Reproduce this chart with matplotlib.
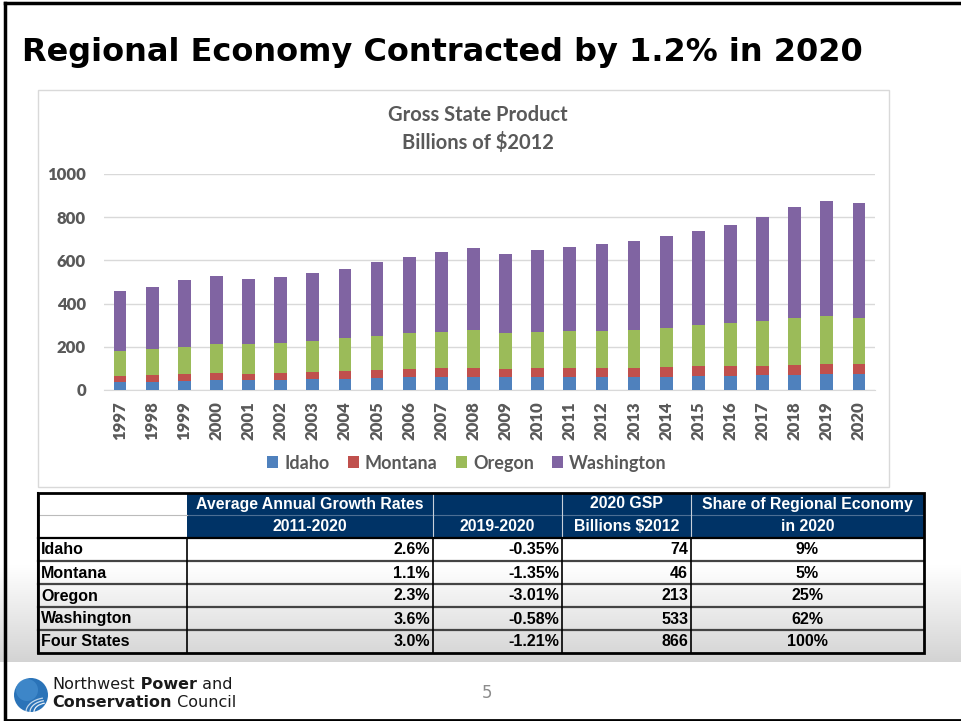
import matplotlib.pyplot as plt
import numpy as np
from matplotlib.patches import Rectangle, Circle, Arc

# Gross state product, billions of $2012
years = ["1997", "1998", "1999", "2000", "2001", "2002", "2003", "2004",
         "2005", "2006", "2007", "2008", "2009", "2010", "2011", "2012",
         "2013", "2014", "2015", "2016", "2017", "2018", "2019", "2020"]
idaho = [39, 39, 43, 46, 46, 46, 49, 52, 56, 59, 59, 60,
         59, 59, 59, 59, 62, 62, 65, 66, 68, 71, 74, 74]
montana = [27, 30, 30, 33, 30, 33, 33, 36, 38, 38, 41, 40,
           38, 41, 41, 41, 41, 44, 45, 44, 45, 46, 46, 46]
oregon = [116, 122, 128, 135, 135, 139, 146, 153, 158, 167, 170, 176,
          167, 170, 175, 175, 176, 181, 189, 199, 208, 215, 221, 213]
washington = [275, 287, 308, 314, 304, 307, 312, 319, 341, 350, 370, 380,
              367, 380, 387, 401, 412, 426, 439, 456, 480, 517, 534, 533]

# summary table
states = ["Idaho", "Montana", "Oregon", "Washington", "Four States"]
growth_2011_2020 = ["2.6%", "1.1%", "2.3%", "3.6%", "3.0%"]
growth_2019_2020 = ["-0.35%", "-1.35%", "-3.01%", "-0.58%", "-1.21%"]
gsp_2020 = ["74", "46", "213", "533", "866"]
share_2020 = ["9%", "5%", "25%", "62%", "100%"]

W, H = 961, 721
GRAY = "#595959"
NAVY = "#003366"


def box(x0, y0, x1, y1):
    return [x0 / W, 1 - y1 / H, (x1 - x0) / W, (y1 - y0) / H]


fig = plt.figure(figsize=(W / 100, H / 100), dpi=100)

# slide background in pixel coordinates
bg = fig.add_axes([0, 0, 1, 1], zorder=0)
bg.set_xlim(0, W)
bg.set_ylim(H, 0)
bg.axis("off")

grad = np.linspace(1.0, 0.83, 100).reshape(-1, 1)
bg.imshow(np.dstack([grad, grad, grad]), extent=[0, W, 662, 565],
          aspect="auto", zorder=0)

# slide border
bg.plot([5, 5], [3, 720], color="black", lw=2.5, zorder=5)
bg.plot([5, W], [3, 3], color="black", lw=2.5, zorder=5)
bg.plot([5, W], [719.5, 719.5], color="black", lw=2, zorder=5)

fig.text(22 / W, 1 - 52 / H, "Regional Economy Contracted by 1.2% in 2020",
         fontsize=23, fontweight="bold", family="DejaVu Sans",
         va="center", ha="left", color="black")

# chart frame
bg.add_patch(Rectangle((38, 90), 851, 397, facecolor="white",
                       edgecolor="#d9d9d9", lw=1, zorder=1))
bg.text(478, 115, "Gross State Product", ha="center", va="center",
        fontsize=14.5, fontweight="bold", family="Lato", color=GRAY, zorder=2)
bg.text(478, 142, "Billions of $2012", ha="center", va="center",
        fontsize=14.5, fontweight="bold", family="Lato", color=GRAY, zorder=2)

# stacked bars
ax = fig.add_axes(box(104, 174, 875, 390), zorder=1)
ax.patch.set_alpha(0)
x = np.arange(len(years))
bw = 0.4
b1 = ax.bar(x, idaho, bw, color="#4F81BD", label="Idaho", zorder=3)
base = np.array(idaho)
b2 = ax.bar(x, montana, bw, bottom=base, color="#C0504D", label="Montana", zorder=3)
base = base + np.array(montana)
b3 = ax.bar(x, oregon, bw, bottom=base, color="#9BBB59", label="Oregon", zorder=3)
base = base + np.array(oregon)
b4 = ax.bar(x, washington, bw, bottom=base, color="#8064A2", label="Washington", zorder=3)

ax.set_xlim(-0.5, len(years) - 0.5)
ax.set_ylim(0, 1000)
ax.set_yticks([0, 200, 400, 600, 800, 1000])
ax.set_xticks(x)
ax.set_xticklabels(years, rotation=90)
ax.grid(axis="y", color="#d9d9d9", lw=1, zorder=0)
for s in ["top", "right", "left"]:
    ax.spines[s].set_visible(False)
ax.spines["bottom"].set_color("#d9d9d9")
ax.tick_params(length=0, labelcolor=GRAY, labelsize=12)
ax.tick_params(axis="x", pad=8)
ax.tick_params(axis="y", pad=13)
for lab in ax.get_xticklabels() + ax.get_yticklabels():
    lab.set_fontweight("heavy")
    lab.set_family("Lato")

leg = ax.legend(handles=[b1, b2, b3, b4], ncol=4, frameon=False,
                loc="center", bbox_to_anchor=(467 / W, 1 - 463 / H),
                bbox_transform=fig.transFigure, handlelength=0.6,
                handleheight=0.6, handletextpad=0.35, columnspacing=1.0,
                prop={"family": "Lato", "weight": "bold", "size": 13})
for t in leg.get_texts():
    t.set_color(GRAY)

# summary table
cols = [38, 187, 433, 562, 691, 924]
rows = [493, 515, 538, 561, 584, 607, 630, 653]

bg.add_patch(Rectangle((cols[1], rows[0]), cols[-1] - cols[1], rows[2] - rows[0],
                       facecolor=NAVY, edgecolor="none", zorder=2))
bg.add_patch(Rectangle((cols[0], rows[0]), cols[1] - cols[0], rows[2] - rows[0],
                       facecolor="white", edgecolor="none", zorder=2))
bg.plot([cols[1], cols[-1]], [rows[1], rows[1]], color="#4d6f94", lw=0.8, zorder=3)
bg.plot([cols[0], cols[1]], [rows[1], rows[1]], color="#bbbbbb", lw=0.8, zorder=3)
for cx in cols[2:-1]:
    bg.plot([cx, cx], [rows[0], rows[2]], color="#c8d0da", lw=0.8, zorder=3)

hdr = dict(color="white", fontsize=11.4, fontweight="bold",
           family="Liberation Sans", ha="center", va="center", zorder=4)
r1 = (rows[0] + rows[1]) / 2
r2 = (rows[1] + rows[2]) / 2
bg.text((cols[1] + cols[2]) / 2, r1, "Average Annual Growth Rates", **hdr)
bg.text((cols[3] + cols[4]) / 2, r1, "2020 GSP", **hdr)
bg.text((cols[4] + cols[5]) / 2, r1, "Share of Regional Economy", **hdr)
bg.text((cols[1] + cols[2]) / 2, r2, "2011-2020", **hdr)
bg.text((cols[2] + cols[3]) / 2, r2, "2019-2020", **hdr)
bg.text((cols[3] + cols[4]) / 2, r2, "Billions $2012", **hdr)
bg.text((cols[4] + cols[5]) / 2, r2, "in 2020", **hdr)

cell = dict(color="black", fontsize=11.5, fontweight="bold",
            family="Liberation Sans", va="center", zorder=4)
for i, st in enumerate(states):
    yc = (rows[i + 2] + rows[i + 3]) / 2 + 0.5
    bg.text(cols[0] + 3, yc, st, ha="left", **cell)
    bg.text(cols[2] - 3, yc, growth_2011_2020[i], ha="right", **cell)
    bg.text(cols[3] - 3, yc, growth_2019_2020[i], ha="right", **cell)
    bg.text(cols[4] - 3, yc, gsp_2020[i], ha="right", **cell)
    bg.text((cols[4] + cols[5]) / 2, yc, share_2020[i], ha="center", **cell)

for ry in rows[3:-1]:
    bg.plot([cols[0], cols[-1]], [ry, ry], color="#444444", lw=1.6, zorder=3)
bg.plot([cols[0], cols[-1]], [rows[2], rows[2]], color="black", lw=1.6, zorder=3)
for cx in cols[1:-1]:
    bg.plot([cx, cx], [rows[2], rows[-1]], color="black", lw=1.2, zorder=3)
bg.plot([cols[0], cols[0]], [rows[0], rows[-1]], color="black", lw=1.5, zorder=3)
bg.add_patch(Rectangle((cols[0], rows[0]), cols[-1] - cols[0], rows[-1] - rows[0],
                       facecolor="none", edgecolor="black", lw=2, zorder=5))

# footer: logo, council name, slide number
bg.add_patch(Circle((31, 695), 17, facecolor="#2a73b8", edgecolor="none", zorder=2))
bg.add_patch(Circle((27, 690), 11, facecolor="#4a94d4", edgecolor="none",
                    alpha=0.6, zorder=2))
for r, a in [(14, 0.9), (18, 0.8), (22, 0.7)]:
    bg.add_patch(Arc((48, 712), 2 * r, 1.3 * r, theta1=180, theta2=250,
                     color="white", lw=0.9, alpha=a, zorder=3))

ft = dict(fontsize=11.5, family="DejaVu Sans", color="#1a1a1a", va="bottom")
t1 = bg.text(52, 692, "Northwest", **ft)
t2 = bg.annotate(" Power", xy=(1, 0), xycoords=t1, fontweight="bold", **ft)
bg.annotate(" and", xy=(1, 0), xycoords=t2, **ft)
t3 = bg.text(52, 710, "Conservation", fontweight="bold", **ft)
bg.annotate(" Council", xy=(1, 0), xycoords=t3, **ft)
bg.text(487, 693, "5", fontsize=12, family="DejaVu Sans", color="#8c8c8c",
        ha="center", va="center")

fig.savefig("out.png", dpi=100)
